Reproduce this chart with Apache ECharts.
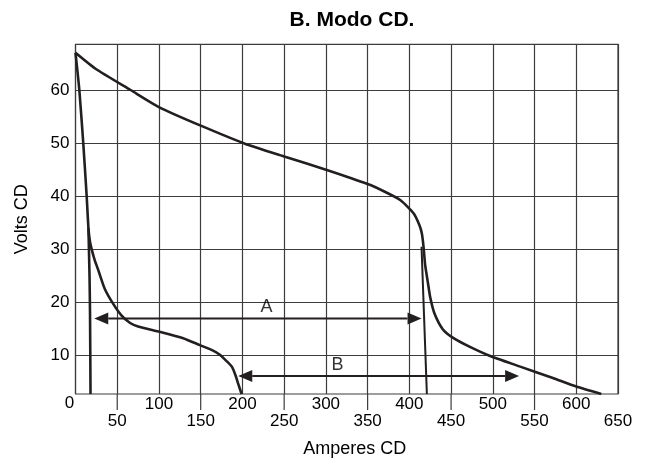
<!DOCTYPE html>
<html>
<head>
<meta charset="utf-8">
<script src="https://cdn.jsdelivr.net/npm/echarts@6/dist/echarts.min.js"></script>
<style>
  html, body { margin: 0; padding: 0; background: #fff; }
  #chart { width: 648px; height: 464px; }
</style>
</head>
<body>
<div id="chart"></div>
<script>
// tick values
const xTicks = [0, 50, 100, 150, 200, 250, 300, 350, 400, 450, 500, 550, 600, 650]
const xLongTicks = [50, 150, 250, 350, 450, 550]
const yTicks = [10, 20, 30, 40, 50, 60]
const yMin = 2.8
const yMax = 68.6

// curves (Amperes, Volts)
const curveA = [
  [0, 67], [24, 64], [66, 60], [101, 56.7], [153, 53.1], [203, 49.9], [252, 47.4],
  [302, 44.9], [350, 42.3], [370, 40.9], [389, 39.3], [405, 36.8], [412, 34.6],
  [415, 33], [417, 30.5], [419, 27], [422, 24], [425, 21], [430, 18], [440, 15],
  [452, 13.4], [472, 11.7], [496, 10], [532, 8], [572, 5.8], [600, 4.2], [630, 2.8]
]
const curveB = [
  [0, 67], [4.6, 60], [9.3, 50], [13.4, 40], [15.5, 34], [17.2, 31.6], [19.4, 30],
  [23, 28], [27.3, 26.1], [35, 22.6], [45, 19.8], [55, 17.6], [65, 16.2], [75, 15.5],
  [101, 14.5], [129, 13.3], [149, 12], [163, 11.1], [173, 10.2], [181, 9], [187.5, 7.9],
  [192, 6.2], [195, 4.7], [199, 2.8]
]
const leftDrop = [[15.5, 34], [16.8, 25], [17.4, 18], [18, 2.8]]
const rightDrop = [[414.6, 30.5], [421, 2.8]]

// dimension arrows (tip to tip) and their letters
const arrowA = [[22.5, 17], [414.6, 17]]
const arrowB = [[195, 6.2], [531.5, 6.2]]
const arrowLabels = [[229, 19.2, 'A'], [314, 8.2, 'B']]

const ink = '#231f20'
const gridColor = '#3c3c3c'
const font = '"Liberation Sans", Arial, sans-serif'
const headLen = 14

const chart = echarts.init(document.getElementById('chart'))

const lineSeries = (data, width) => ({
  type: 'line',
  data,
  showSymbol: false,
  symbol: 'none',
  smooth: 0.2,
  lineStyle: { color: ink, width },
  z: 5
})

const arrowSeries = (pts) => ({
  type: 'custom',
  silent: true,
  data: [pts[0].concat(pts[1])],
  encode: { x: [0, 2], y: [1, 3] },
  renderItem: (params, api) => {
    const a = api.coord([api.value(0), api.value(1)])
    const b = api.coord([api.value(2), api.value(3)])
    const h = headLen, w = 6
    return {
      type: 'group',
      children: [
        { type: 'line', shape: { x1: a[0] + h, y1: a[1], x2: b[0] - h, y2: b[1] },
          style: { stroke: ink, lineWidth: 2 } },
        { type: 'polygon', shape: { points: [[a[0], a[1]], [a[0] + h, a[1] - w], [a[0] + h, a[1] + w]] },
          style: { fill: ink } },
        { type: 'polygon', shape: { points: [[b[0], b[1]], [b[0] - h, b[1] - w], [b[0] - h, b[1] + w]] },
          style: { fill: ink } }
      ]
    }
  }
})

const labelText = { fontFamily: font, fontSize: 17, color: '#000' }

// lower-row labels carry a thin bar on their first line, so the grid line
// at the odd fifties seems to run on below the frame
const xLabel = (v) => {
  if (v === 0) return '{z|0}'
  if (v % 100 === 0) return '{u|' + v + '}'
  const bar = xLongTicks.includes(v) ? 't' : 'g'
  return '{' + bar + '| }\n{n|' + v + '}'
}

const option = {
  animation: false,
  backgroundColor: '#fff',
  title: {
    text: 'B. Modo CD.',
    left: 347,
    top: 5,
    textAlign: 'center',
    textStyle: { fontFamily: font, fontWeight: 'bold', fontSize: 21, color: '#000' }
  },
  grid: {
    left: 75.5,
    right: 30,
    top: 44.3,
    bottom: 70,
    show: true,
    borderColor: gridColor,
    borderWidth: 1.2
  },
  xAxis: {
    type: 'value',
    min: 0,
    max: 650,
    interval: 50,
    name: 'Amperes CD',
    nameLocation: 'middle',
    nameGap: 46,
    nameTextStyle: { fontFamily: font, fontSize: 18, color: '#000', padding: [0, 0, 0, 16] },
    axisLine: { show: false },
    axisTick: { show: false },
    splitLine: { show: true, lineStyle: { color: gridColor, width: 1.2 } },
    axisLabel: {
      margin: 0,
      ...labelText,
      formatter: xLabel,
      rich: {
        z: { ...labelText, lineHeight: 16, padding: [3, 12, 0, 0] },
        u: { ...labelText, lineHeight: 16, padding: [4, 0, 0, 0] },
        n: { ...labelText, lineHeight: 22 },
        t: { width: 1.2, height: 16, lineHeight: 16, backgroundColor: gridColor },
        g: { width: 1.2, height: 16, lineHeight: 16 }
      }
    }
  },
  yAxis: {
    type: 'value',
    min: yMin,
    max: yMax,
    name: 'Volts CD',
    nameLocation: 'middle',
    nameGap: 44,
    nameTextStyle: { fontFamily: font, fontSize: 18, color: '#000' },
    axisLine: { show: false },
    axisTick: { show: false, customValues: yTicks },
    splitLine: { show: true, lineStyle: { color: gridColor, width: 1.2 } },
    axisLabel: {
      customValues: yTicks,
      margin: 6,
      ...labelText
    }
  },
  series: [
    lineSeries(curveA, 2.6),
    lineSeries(curveB, 2.6),
    lineSeries(leftDrop, 2.6),
    lineSeries(rightDrop, 2),
    arrowSeries(arrowA),
    arrowSeries(arrowB),
    {
      type: 'scatter',
      data: arrowLabels,
      symbolSize: 0,
      silent: true,
      label: {
        show: true,
        position: 'inside',
        formatter: (p) => p.data[2],
        fontFamily: font,
        fontSize: 18,
        color: '#000'
      }
    }
  ]
}

chart.setOption(option)
window.addEventListener('resize', () => chart.resize())
</script>
</body>
</html>
